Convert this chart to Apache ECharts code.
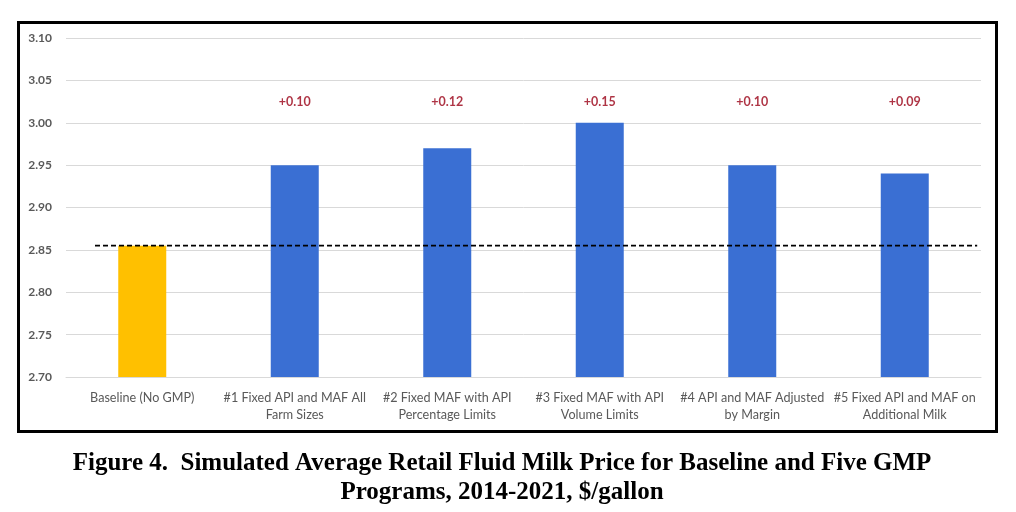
<!DOCTYPE html>
<html>
<head>
<meta charset="utf-8">
<script src="https://cdn.jsdelivr.net/npm/echarts@6/dist/echarts.min.js"></script>
<style>html,body{margin:0;padding:0;background:#fff}#c{width:1016px;height:512px}</style>
</head>
<body>
<div id="c"></div>
<script>
var categories = ['Baseline (No GMP)', '#1 Fixed API and MAF All\nFarm Sizes', '#2 Fixed MAF with API\nPercentage Limits', '#3 Fixed MAF with API\nVolume Limits', '#4 API and MAF Adjusted\nby Margin', '#5 Fixed API and MAF on\nAdditional Milk'];
var prices = [2.855, 2.95, 2.97, 3.00, 2.95, 2.94];
var changeLabels = ['', '+0.10', '+0.12', '+0.15', '+0.10', '+0.09'];
var labelLevel = [null, 3.025, 3.025, 3.025, 3.025, 3.025];
var baselineValue = 2.855;
var baselineSpan = [0.19, 5.975];
var yTicks = { min: 2.70, max: 3.10, interval: 0.05 };
var titleText = 'Figure 4.  Simulated Average Retail Fluid Milk Price for Baseline and Five GMP\nPrograms, 2014-2021, $/gallon';

var chart = echarts.init(document.getElementById('c'));
chart.setOption({
  animation: false,
  backgroundColor: '#fff',
  grid: { left: 66, right: 35, top: 38, bottom: 135 },
  xAxis: [{
    type: 'category',
    data: categories,
    axisLine: { show: true, lineStyle: { color: '#d9d9d9' } },
    axisTick: { show: false },
    axisLabel: { color: '#595959', fontFamily: 'Lato', fontSize: 12.6, lineHeight: 17, margin: 12, interval: 0 }
  }, {
    type: 'value', min: 0, max: 6, show: false
  }],
  yAxis: {
    type: 'value',
    min: yTicks.min, max: yTicks.max, interval: yTicks.interval,
    axisLine: { show: false },
    axisTick: { show: false },
    splitLine: { lineStyle: { color: '#d9d9d9', width: 1 } },
    axisLabel: { color: '#595959', fontFamily: 'Lato', fontWeight: 'bold', fontSize: 12, margin: 14,
      formatter: function (v) { return v.toFixed(2); } }
  },
  series: [{
    type: 'bar',
    barWidth: 48,
    data: prices.map(function (v, i) {
      return { value: v, itemStyle: { color: i === 0 ? '#FFC000' : '#3A6FD3' } };
    })
  }, {
    type: 'scatter',
    symbolSize: 0,
    data: labelLevel,
    label: {
      show: true, position: 'inside',
      formatter: function (p) { return changeLabels[p.dataIndex]; },
      color: '#9A0015', fontFamily: 'Lato', fontWeight: 'bold', fontSize: 12.5
    },
    z: 5
  }, {
    type: 'line',
    xAxisIndex: 1,
    data: [[baselineSpan[0], baselineValue], [baselineSpan[1], baselineValue]],
    symbol: 'none',
    lineStyle: { color: '#000', width: 1.6, type: [5, 3] },
    z: 6
  }],
  graphic: [{
    type: 'rect',
    shape: { x: 18.5, y: 22.5, width: 978, height: 409 },
    style: { fill: 'none', stroke: '#000', lineWidth: 3 },
    silent: true
  }, {
    type: 'text',
    x: 502, y: 449,
    style: {
      text: titleText, align: 'center', verticalAlign: 'top',
      font: 'bold 25px "Liberation Serif"', lineHeight: 29, fill: '#000'
    },
    silent: true
  }]
});
</script>
</body>
</html>
